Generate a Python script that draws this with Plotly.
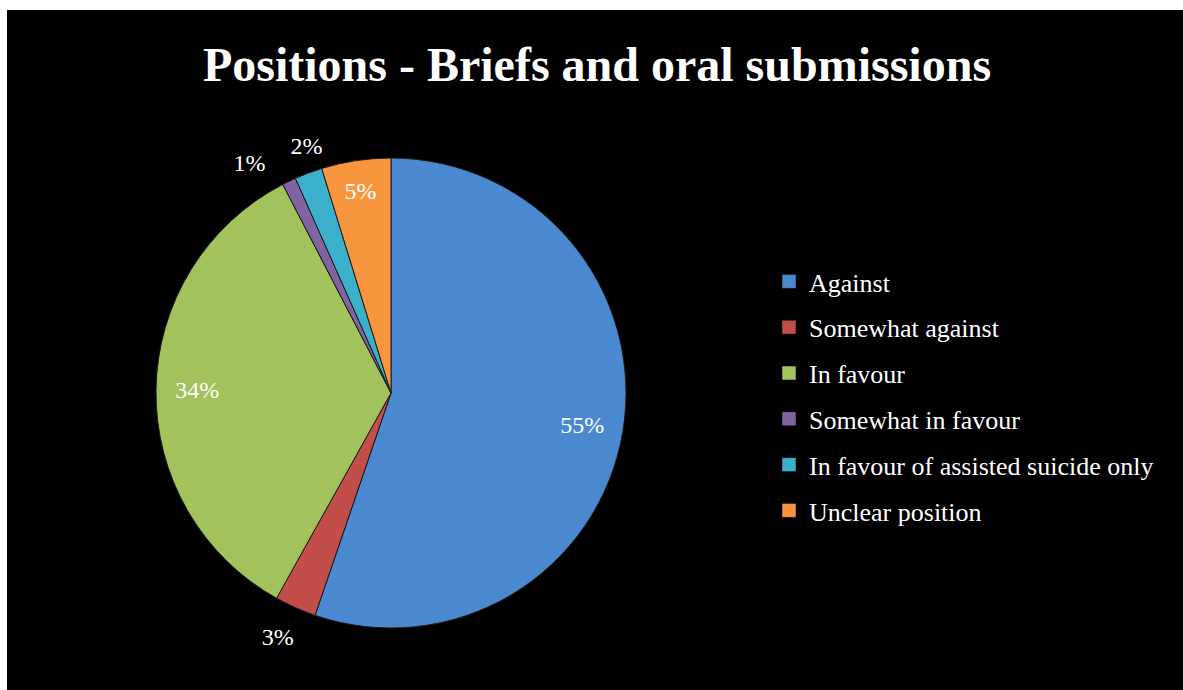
import plotly.graph_objects as go

categories = ["Against", "Somewhat against", "In favour", "Somewhat in favour",
              "In favour of assisted suicide only", "Unclear position"]
counts = [58, 3, 36, 1, 2, 5]
colors = ["#4A89CF", "#C14E48", "#A2C25B", "#8064A2", "#3CAFCB", "#F7963E"]
title_text = "Positions - Briefs and oral submissions"

total = sum(counts)
pct = [f"{round(100 * v / total)}%" for v in counts]

W, H = 1183, 690
cx, cy, r = 391, 393, 235
label_font = dict(family="Liberation Serif", size=24, color="white")
clear = ["rgba(0,0,0,0)"] * len(counts)


def dom(rad):
    return dict(x=[(cx - rad) / W, (cx + rad) / W], y=[1 - (cy + rad) / H, 1 - (cy - rad) / H])


def pie(show, pos, rad, colored=False, hole=0.0, rotation=0.0):
    """One pie layer; only the slices listed in `show` carry their percentage."""
    return go.Pie(
        labels=categories, values=counts, sort=False, direction="clockwise",
        rotation=rotation, hole=hole,
        marker=dict(colors=colors if colored else clear,
                    line=dict(color="#1a1a1a", width=1 if colored else 0)),
        text=[p if i in show else "" for i, p in enumerate(pct)],
        textinfo="text",
        textposition=[pos if i in show else "none" for i in range(len(counts))],
        insidetextorientation="horizontal", textfont=label_font, outsidetextfont=label_font,
        showlegend=False, hoverinfo="label+percent" if colored else "skip",
        domain=dom(rad),
    )


fig = go.Figure()
fig.add_trace(pie({5}, "inside", r, colored=True))             # coloured pie, 5% inside
fig.add_trace(pie({0, 2}, "inside", r, hole=0.65))             # 55%, 34% near the rim
fig.add_trace(pie({1, 3}, "outside", 250, rotation=-2.7))      # 3%, 1% outside
fig.add_trace(pie({4}, "outside", 243, rotation=5.8))          # 2% outside

# legend entries (one group per category so the spacing can be set)
for name, col in zip(categories, colors):
    fig.add_trace(go.Scatter(
        x=[None], y=[None], mode="markers", name=name, legendgroup=name,
        marker=dict(symbol="square", size=14, color=col,
                    line=dict(color="rgba(0,0,0,0.5)", width=1)),
    ))

fig.update_layout(
    width=W, height=H,
    margin=dict(l=0, r=0, t=0, b=0),
    paper_bgcolor="black",
    plot_bgcolor="rgba(0,0,0,0)",
    xaxis=dict(visible=False, domain=[0.99, 1]),
    yaxis=dict(visible=False, domain=[0.99, 1]),
    title=dict(text="<b>" + title_text + "</b>", x=597 / W, xanchor="center",
               y=1 - 64 / H, yanchor="middle",
               font=dict(family="Liberation Serif", size=48, color="white")),
    legend=dict(x=769 / W, xanchor="left", y=1 - 258 / H, yanchor="top",
                font=dict(family="Liberation Serif", size=26, color="white"),
                bgcolor="rgba(0,0,0,0)", tracegroupgap=9, itemclick=False),
    shapes=[
        dict(type="rect", xref="paper", yref="paper", x0=0, x1=1, y0=1 - 10 / H, y1=1,
             fillcolor="white", line=dict(width=0), layer="below"),
        dict(type="rect", xref="paper", yref="paper", x0=0, x1=7 / W, y0=0, y1=1,
             fillcolor="white", line=dict(width=0), layer="below"),
    ],
)

fig.write_html(
    "out.html",
    config={"displayModeBar": False},
    post_script="document.body.style.margin='0';document.body.style.overflow='hidden';",
)
